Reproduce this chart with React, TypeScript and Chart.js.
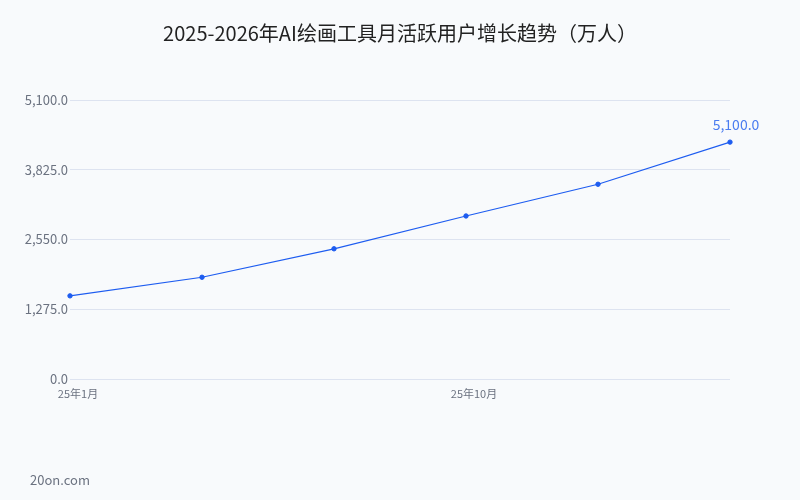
import { useEffect, useRef } from "react";
import { Chart, registerables } from "chart.js";

Chart.register(...registerables);

const TITLE = "2025-2026年AI绘画工具月活跃用户增长趋势（万人）";
const FOOTER = "20on.com";
const months = ["25年1月", "25年4月", "25年7月", "25年10月", "26年1月", "26年4月"];
const users = [1520, 1860, 2380, 2980, 3560, 4330];
const lastLabel = "5,100.0";
const yMax = 5100;
const yStep = 1275;

const FONT = "'Noto Sans CJK SC', 'Noto Sans', sans-serif";

const fmt = (v: number) =>
  v.toLocaleString("en-US", { minimumFractionDigits: 1, maximumFractionDigits: 1 });

export default function App() {
  const canvasRef = useRef<HTMLCanvasElement>(null);
  const chartRef = useRef<Chart | null>(null);

  useEffect(() => {
    document.body.style.margin = "0";
    document.body.style.background = "#f8fafc";
    if (!canvasRef.current) return;
    if (chartRef.current) chartRef.current.destroy();

    // background, title, last point label and footer drawn on the canvas
    const extras = {
      id: "extras",
      beforeDraw(chart: Chart) {
        const ctx = chart.ctx;
        ctx.save();
        ctx.fillStyle = "#f8fafc";
        ctx.fillRect(0, 0, chart.width, chart.height);
        ctx.restore();
      },
      afterDraw(chart: Chart) {
        const ctx = chart.ctx;
        const meta = chart.getDatasetMeta(0);
        const last = meta.data[meta.data.length - 1];
        ctx.save();
        ctx.textBaseline = "middle";

        ctx.font = `20px ${FONT}`;
        ctx.fillStyle = "#222222";
        ctx.textAlign = "center";
        ctx.fillText(TITLE, chart.width / 2, 33);

        ctx.font = `14px ${FONT}`;
        ctx.fillStyle = "#4a7cf0";
        ctx.fillText(lastLabel, last.x + 6, last.y - 17);

        ctx.font = `13px ${FONT}`;
        ctx.fillStyle = "#6b7280";
        ctx.textAlign = "left";
        ctx.fillText(FOOTER, 30, 480);
        ctx.restore();
      },
    };

    chartRef.current = new Chart(canvasRef.current, {
      type: "line",
      data: {
        labels: months,
        datasets: [
          {
            data: users,
            borderColor: "#1d5cf0",
            backgroundColor: "#1d5cf0",
            borderWidth: 1.2,
            pointRadius: 2.2,
            pointBorderWidth: 1,
            pointBackgroundColor: "#1d5cf0",
            tension: 0,
          },
        ],
      },
      options: {
        animation: false,
        responsive: false,
        layout: { padding: { left: 0, right: 70, top: 100, bottom: 95 } },
        plugins: {
          legend: { display: false },
          tooltip: { enabled: false },
          title: { display: false },
        },
        scales: {
          x: {
            offset: false,
            grid: { display: false, drawTicks: false },
            border: { display: false },
            afterFit: (s: any) => {
              s.height = 26;
            },
            ticks: {
              autoSkip: false,
              maxRotation: 0,
              padding: 8,
              labelOffset: 8,
              color: "#6b7280",
              font: { family: FONT, size: 11 },
              callback: (_v: any, i: number) => (i % 3 === 0 ? months[i] : ""),
            },
          },
          y: {
            min: 0,
            max: yMax,
            grid: { color: "#dde3f0", drawTicks: false, lineWidth: 1 },
            border: { display: false },
            afterFit: (s: any) => {
              s.width = 70;
            },
            ticks: {
              stepSize: yStep,
              padding: 2,
              color: "#6b7280",
              font: { family: FONT, size: 13 },
              callback: (v: any) => fmt(Number(v)),
            },
          },
        },
      },
      plugins: [extras],
    });

    return () => {
      if (chartRef.current) {
        chartRef.current.destroy();
        chartRef.current = null;
      }
    };
  }, []);

  return (
    <div style={{ width: 800, height: 500, background: "#f8fafc" }}>
      <canvas ref={canvasRef} width={800} height={500} style={{ display: "block" }} />
    </div>
  );
}
